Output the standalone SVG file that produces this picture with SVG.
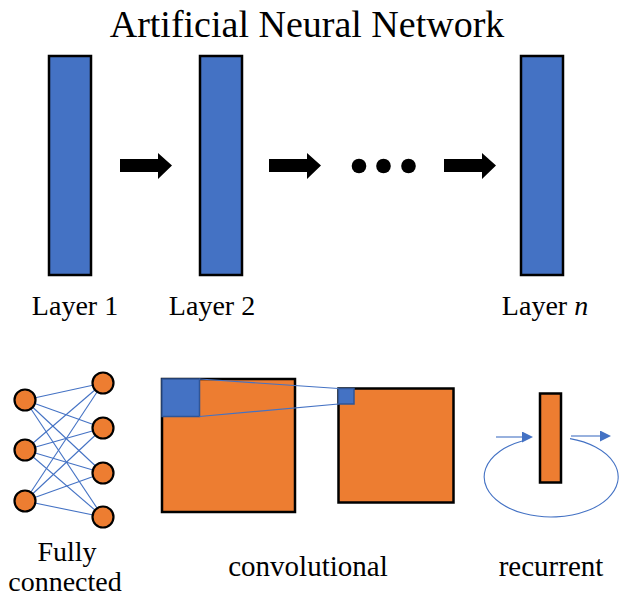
<svg xmlns="http://www.w3.org/2000/svg" width="624" height="597" viewBox="0 0 624 597">
<style>
.t{font-family:"Liberation Serif","Times New Roman",serif;fill:#000;text-anchor:middle}
.layer{fill:#4472C4;stroke:#000;stroke-width:2.5}
.blk{fill:#000}
.orn{fill:#ED7D31;stroke:#000;stroke-width:2.5}
.neuron{fill:#ED7D31;stroke:#000;stroke-width:2.2}
.bl{stroke:#4472C4;stroke-width:1.1;fill:none}
.kern{fill:#4472C4;stroke:#2F5597;stroke-width:1.5}
</style>
<defs>
<marker id="ah" viewBox="0 0 10 10" refX="0" refY="5" markerWidth="12" markerHeight="11" markerUnits="userSpaceOnUse" orient="auto">
<path d="M0 0 L10 5 L0 10 Z" fill="#4472C4"/>
</marker>
</defs>
<rect width="624" height="597" fill="#fff"/>
<text class="t" x="307" y="37" font-size="38">Artificial Neural Network</text>

<g id="layer1"><rect class="layer" x="49" y="56" width="42" height="219"/><text class="t" x="75" y="315" font-size="28">Layer 1</text></g>
<g id="layer2"><rect class="layer" x="200" y="56" width="42" height="219"/><text class="t" x="212" y="315" font-size="28">Layer 2</text></g>
<g id="layern"><rect class="layer" x="521" y="56" width="42" height="219"/><text class="t" x="545" y="315" font-size="28">Layer <tspan font-style="italic">n</tspan></text></g>
<g id="dots"><circle class="blk" cx="359" cy="166" r="7.3"/><circle class="blk" cx="383.5" cy="166" r="7.3"/><circle class="blk" cx="408.5" cy="166" r="7.3"/></g>

<g id="fc">
<g class="bl">
<line x1="25" y1="400" x2="103" y2="383"/><line x1="25" y1="400" x2="103" y2="428"/><line x1="25" y1="400" x2="103" y2="473"/><line x1="25" y1="400" x2="103" y2="517"/>
<line x1="25" y1="450" x2="103" y2="383"/><line x1="25" y1="450" x2="103" y2="428"/><line x1="25" y1="450" x2="103" y2="473"/><line x1="25" y1="450" x2="103" y2="517"/>
<line x1="25" y1="501" x2="103" y2="383"/><line x1="25" y1="501" x2="103" y2="428"/><line x1="25" y1="501" x2="103" y2="473"/><line x1="25" y1="501" x2="103" y2="517"/>
</g>
<circle class="neuron" cx="25" cy="400" r="10.5"/><circle class="neuron" cx="25" cy="450" r="10.5"/><circle class="neuron" cx="25" cy="501" r="10.5"/>
<circle class="neuron" cx="103" cy="383" r="10.5"/><circle class="neuron" cx="103" cy="428" r="10.5"/><circle class="neuron" cx="103" cy="473" r="10.5"/><circle class="neuron" cx="103" cy="517" r="10.5"/>
<text class="t" x="67" y="561" font-size="28">Fully</text>
<text class="t" x="65" y="591" font-size="28">connected</text>
</g>

<g id="conv">
<rect class="orn" x="162" y="379" width="133" height="133"/>
<rect class="kern" x="162" y="379" width="37.5" height="37.5"/>
<rect class="orn" x="338.5" y="388.5" width="115" height="114"/>
<rect class="kern" x="338.5" y="388.5" width="15.5" height="15.5"/>
<text class="t" x="308" y="576" font-size="29">convolutional</text>
</g>

<g id="rnn">
<rect class="orn" x="540" y="393.5" width="21" height="89"/>
<text class="t" x="551" y="576" font-size="29">recurrent</text>
</g>

<g id="connectors">
<polygon class="blk" points="120,159 158,159 158,153 172,165.5 158,179 158,172 120,172"/>
<polygon class="blk" points="269,159 307,159 307,153 321,165.5 307,179 307,172 269,172"/>
<polygon class="blk" points="444,159 482,159 482,153 496,165.5 482,179 482,172 444,172"/>
<line class="bl" x1="199.5" y1="379" x2="338.5" y2="388.5"/>
<line class="bl" x1="199.5" y1="416.5" x2="338.5" y2="404"/>
<path class="bl" d="M570 438.6 A67 40 0 1 1 523 440.7"/>
<line class="bl" x1="496" y1="437" x2="522" y2="437" marker-end="url(#ah)"/>
<line class="bl" x1="571" y1="436" x2="600" y2="436" marker-end="url(#ah)"/>
</g>
</svg>
